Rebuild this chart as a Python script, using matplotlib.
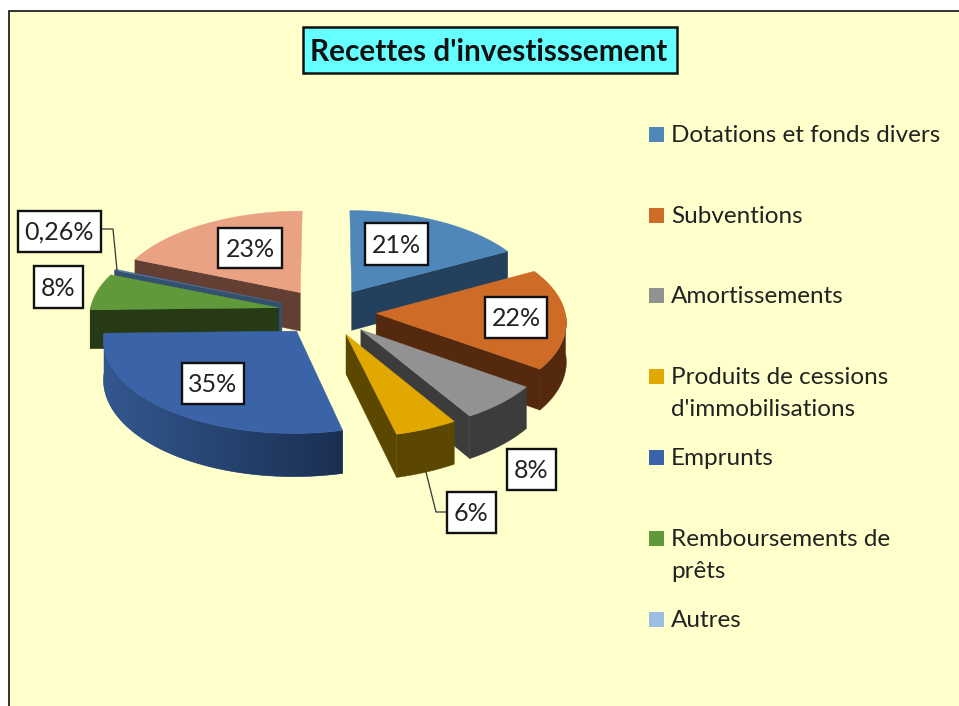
import numpy as np
import matplotlib
matplotlib.use('Agg')
import matplotlib.pyplot as plt
import matplotlib.patches as mpatches
from matplotlib.colors import LinearSegmentedColormap

# data
title = "Recettes d'investisssement"
legendLabels = ['Dotations et fonds divers', 'Subventions', 'Amortissements',
                "Produits de cessions\nd'immobilisations", 'Emprunts',
                'Remboursements de\nprêts', 'Autres']
values = [21, 22, 8, 6, 35, 8, 0.26, 23]
valueLabels = ['21%', '22%', '8%', '6%', '35%', '8%', '0,26%', '23%']

# style
topColors = ['#4f87ba', '#cd6b27', '#929292', '#e1a900', '#3a63a8', '#5f993a', '#4d6f9f', '#e9a283']
wallColors = ['#23405c', '#55290e', '#3c3c3c', '#5c4700', '#1b2f52', '#263a16', '#34506f', '#633f33']
rimColors = [('#23405c', '#23405c'), ('#55290e', '#55290e'), ('#3c3c3c', '#3c3c3c'),
             ('#5c4700', '#5c4700'), ('#33588f', '#1b2f52'), ('#263a16', '#263a16'),
             ('#34506f', '#34506f'), ('#633f33', '#633f33')]
legendColors = ['#4f87ba', '#cd6b27', '#929292', '#e1a900', '#3a63a8', '#5f993a', '#9dbde2']
drawOrder = [7, 0, 6, 5, 1, 2, 3, 4]
labelBoxes = [(396, 244, 63, 42), (516, 317, 62, 41), (531, 469, 49, 41), (471, 512, 49, 41),
              (213, 383, 62, 41), (58, 287, 49, 42), (59, 231, 83, 41), (250, 248, 64, 40)]
legendY = [134, 215, 295, 376, 457, 538, 619]

cx, cy = 327, 312
rx, ry = 189, 91
explode = 0.26
persp = 0.08
depth = 39


def project(X, Y):
    s = 1.0 / (1.0 + persp * Y)
    return cx + rx * X * s, cy - ry * Y * s, s


def drawSlice(ax, a1, a2, top, wall, rim, z):
    mid = (a1 + a2) / 2
    ox, oy = explode * np.sin(mid), explode * np.cos(mid)
    angles = np.linspace(a1, a2, 80)
    px, py, ps = project(ox + np.sin(angles), oy + np.cos(angles))
    ax0, ay0, as0 = project(ox, oy)

    # rim, only the part facing the viewer, gradient clipped to its outline
    front = np.cos(angles) <= 0
    if front.sum() > 1:
        fx, fy, fs = px[front], py[front], ps[front]
        outline = list(zip(fx, fy)) + list(zip(fx[::-1], (fy + depth * fs)[::-1]))
        rimPatch = mpatches.Polygon(outline, closed=True, facecolor=rim[0], edgecolor=rim[0], linewidth=0.3, zorder=z)
        ax.add_patch(rimPatch)
        if rim[0] != rim[1]:
            cmap = LinearSegmentedColormap.from_list('rim', list(rim))
            grad = np.linspace(0, 1, 256).reshape(1, -1)
            im = ax.imshow(grad, cmap=cmap, aspect='auto', zorder=z + 0.1,
                           extent=(fx.min(), fx.max(), (fy + depth * fs).max(), fy.min()))
            im.set_clip_path(rimPatch)

    # radial faces turned to the viewer
    faces = []
    if np.sin(a1) < 0:
        faces.append(0)
    if np.sin(a2) > 0:
        faces.append(-1)
    for i in faces:
        quad = [(ax0, ay0), (px[i], py[i]), (px[i], py[i] + depth * ps[i]), (ax0, ay0 + depth * as0)]
        ax.add_patch(mpatches.Polygon(quad, closed=True, facecolor=wall, edgecolor=wall,
                                      linewidth=0.3, zorder=z + 0.2))

    surface = [(ax0, ay0)] + list(zip(px, py))
    ax.add_patch(mpatches.Polygon(surface, closed=True, facecolor=top, edgecolor=top, linewidth=0.3, zorder=z + 0.3))


def main():
    plt.rcParams['font.family'] = ['Lato', 'DejaVu Sans']
    fig = plt.figure(figsize=(9.59, 7.06), dpi=100, facecolor='white')
    ax = fig.add_axes([0, 0, 1, 1])

    # background frame
    ax.add_patch(mpatches.Rectangle((9, 11), 960, 710, facecolor='#ffffcc', edgecolor='#111111', linewidth=1.2, zorder=0))

    # title
    ax.add_patch(mpatches.Rectangle((303, 27), 374, 46, facecolor='#66ffff', edgecolor='#111111', linewidth=1.8, zorder=30))
    ax.text(489, 52, title, ha='center', va='center', fontsize=21.4, fontweight='bold', color='#111111', zorder=31)

    # slices
    total = float(sum(values))
    edges = np.concatenate([[0], np.cumsum(values)]) / total * 2 * np.pi
    for n, i in enumerate(drawOrder):
        drawSlice(ax, edges[i], edges[i + 1], topColors[i], wallColors[i], rimColors[i], n + 1)

    # leader lines
    ax.plot([447, 436, 426], [512, 512, 472], color='#333333', linewidth=0.9, zorder=20)
    ax.plot([101, 113, 117], [229, 229, 270], color='#333333', linewidth=0.9, zorder=20)

    # value labels
    for box, txt in zip(labelBoxes, valueLabels):
        x, y, w, h = box
        ax.add_patch(mpatches.Rectangle((x - w / 2, y - h / 2), w, h, facecolor='white',
                                        edgecolor='#111111', linewidth=1.7, zorder=21))
        ax.text(x, y + 1.5, txt, ha='center', va='center', fontsize=18, color='#222222', zorder=22)

    # legend
    for y, lab, col in zip(legendY, legendLabels, legendColors):
        ax.add_patch(mpatches.Rectangle((649, y - 7), 15, 15, facecolor=col, edgecolor='none', zorder=20))
        ax.text(671, y - 9, lab, ha='left', va='top', fontsize=17.5, color='#222222', linespacing=1.65, zorder=20)

    ax.set_xlim(0, 959)
    ax.set_ylim(706, 0)
    ax.axis('off')
    fig.savefig('out.png', dpi=100, facecolor='white')


if __name__ == '__main__':
    main()
